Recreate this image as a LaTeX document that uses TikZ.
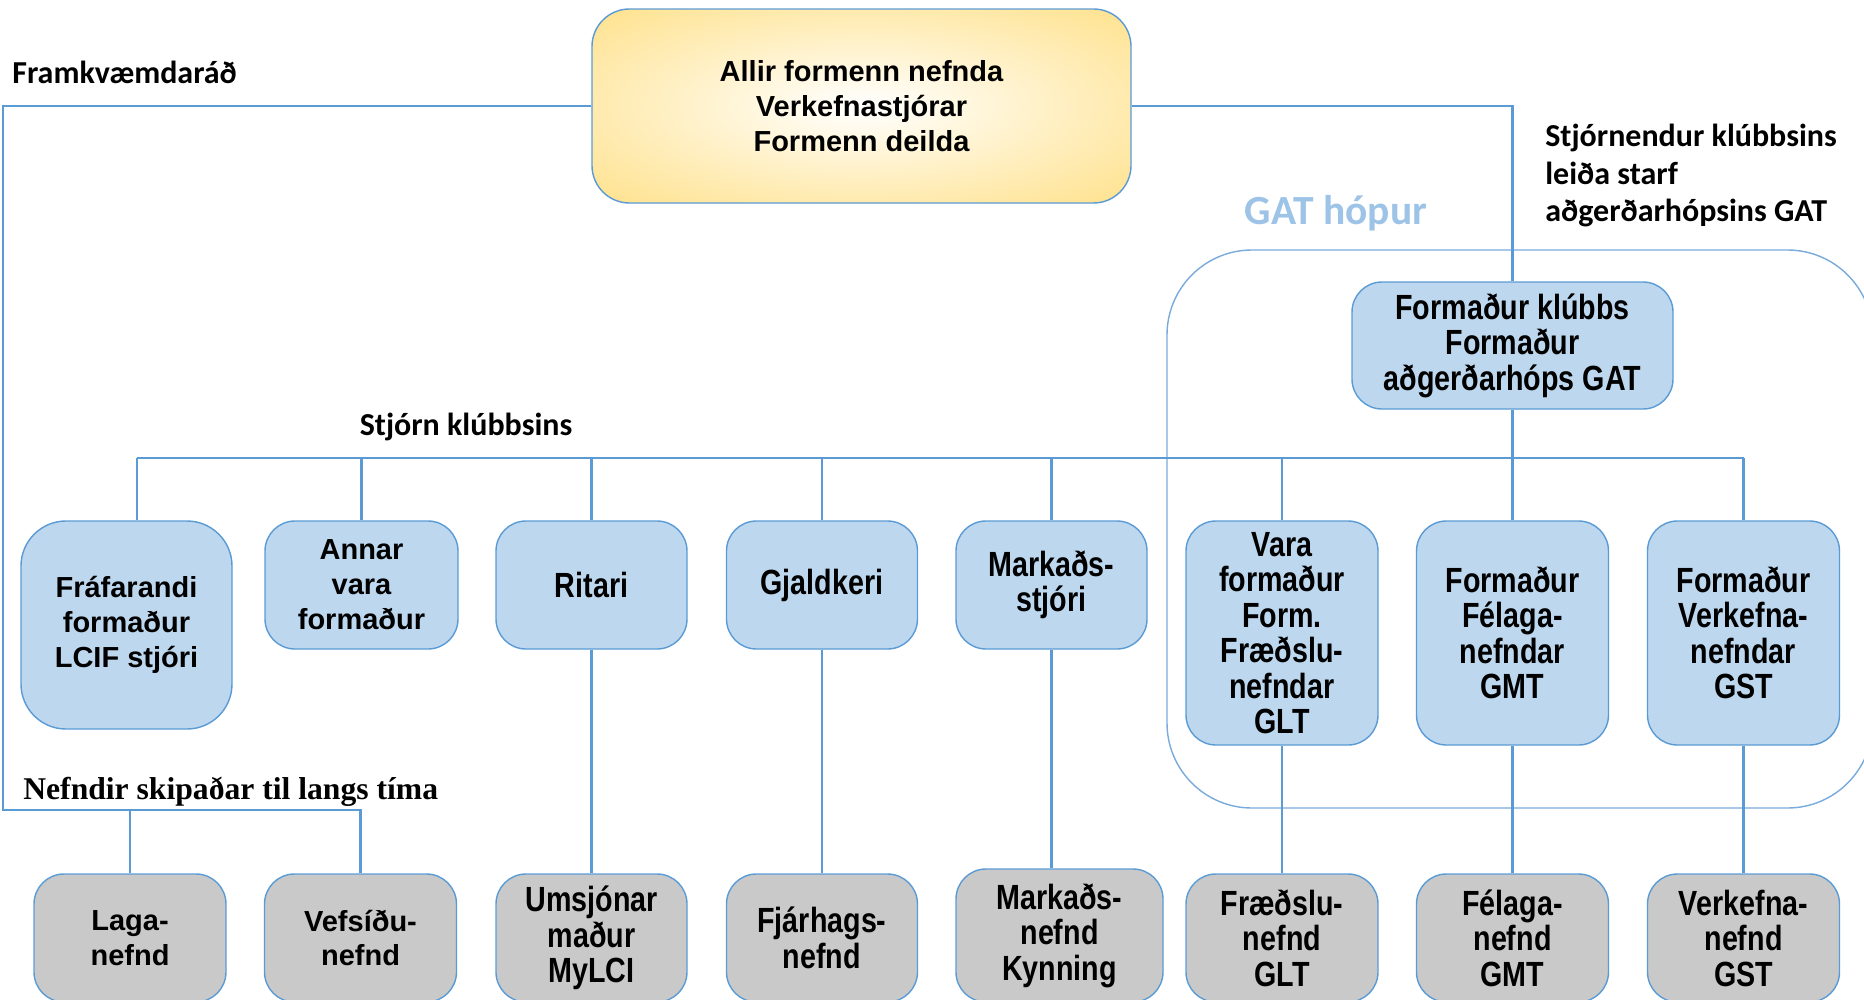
\documentclass[tikz,border=0pt]{standalone}
\usepackage{fontspec}
\setmainfont{Liberation Sans}
\newfontfamily\narrowfont{Liberation Sans}[FakeStretch=0.82]
\newfontfamily\labelfont{Carlito}
\newfontfamily\seriffont{Liberation Serif}
\usetikzlibrary{positioning,calc,backgrounds}
\definecolor{orglink}{RGB}{91,155,213}
\definecolor{orgframe}{RGB}{120,170,220}
\definecolor{orgblue}{RGB}{189,215,238}
\definecolor{orggrey}{RGB}{201,201,201}
\definecolor{orggold}{RGB}{255,214,95}
\definecolor{orggoldlight}{RGB}{255,240,196}
\definecolor{orggat}{RGB}{157,195,230}
\pgfdeclareradialshading{goldglow}{\pgfpoint{0cm}{0cm}}{color(0bp)=(white); color(18bp)=(orggoldlight); color(50bp)=(orggold)}

\begin{document}
\begin{tikzpicture}[
    board/.style={draw=orglink, line width=0.8pt, fill=orgblue, rounded corners=0.6cm, align=center, inner sep=0pt, font=\bfseries\fontsize{16.5}{19.9}\selectfont},
    nboard/.style={board, font=\narrowfont\bfseries\fontsize{19.9}{20.2}\selectfont},
    committee/.style={board, fill=orggrey},
    ncommittee/.style={nboard, fill=orggrey},
    link/.style={draw=orglink, line width=1.4pt},
    lbl/.style={font=\labelfont\bfseries\fontsize{18.2}{21.6}\selectfont, align=left, inner sep=0pt}
]
\useasboundingbox (0,0) rectangle (37.28,-20);
\clip (0,0) rectangle (37.28,-20);

% GAT group frame
\draw[draw=orgframe, line width=0.8pt, rounded corners=1.7cm] (23.34,-5.0) rectangle (37.45,-16.16);

% Top box
\node[board, shading=goldglow, rounded corners=0.75cm, minimum width=10.78cm, minimum height=3.88cm] (allir) at (17.23,-2.12) {Allir formenn nefnda\\Verkefnastjórar\\Formenn deilda};

% GAT chair
\node[nboard, minimum width=6.42cm, minimum height=2.54cm] (klubbs) at (30.25,-6.91) {Formaður klúbbs\\Formaður\\aðgerðarhóps GAT};

% Board of the club
\node[board, rounded corners=0.9cm, minimum width=4.22cm, minimum height=4.16cm] (fraf) at (2.53,-12.5) {Fráfarandi\\formaður\\LCIF stjóri};
\node[board, minimum width=3.86cm, minimum height=2.56cm] (annar) at (7.23,-11.7) {Annar\\vara\\formaður};
\node[nboard, minimum width=3.82cm, minimum height=2.56cm] (ritari) at (11.83,-11.7) {Ritari};
\node[nboard, minimum width=3.82cm, minimum height=2.56cm] (gjald) at (16.44,-11.7) {Gjaldkeri};
\node[nboard, minimum width=3.82cm, minimum height=2.56cm] (markstj) at (21.03,-11.7) {Markaðs-\\stjóri};
\node[nboard, minimum width=3.84cm, minimum height=4.48cm] (vara) at (25.64,-12.66) {Vara\\formaður\\Form.\\Fræðslu-\\nefndar\\GLT};
\node[nboard, minimum width=3.84cm, minimum height=4.48cm] (felaga) at (30.25,-12.66) {Formaður\\Félaga-\\nefndar\\GMT};
\node[nboard, minimum width=3.84cm, minimum height=4.48cm] (verkefna) at (34.87,-12.66) {Formaður\\Verkefna-\\nefndar\\GST};

% Committees
\node[committee, minimum width=3.84cm, minimum height=2.56cm] (laga) at (2.6,-18.76) {Laga-\\nefnd};
\node[committee, minimum width=3.84cm, minimum height=2.56cm] (vefsidu) at (7.21,-18.76) {Vefsíðu-\\nefnd};
\node[ncommittee, minimum width=3.82cm, minimum height=2.56cm] (umsjon) at (11.83,-18.76) {Umsjónar\\maður\\MyLCI};
\node[ncommittee, minimum width=3.82cm, minimum height=2.56cm] (fjarhags) at (16.44,-18.76) {Fjárhags-\\nefnd};
\node[ncommittee, minimum width=4.14cm, minimum height=2.66cm] (marknef) at (21.19,-18.71) {Markaðs-\\nefnd\\Kynning};
\node[ncommittee, minimum width=3.84cm, minimum height=2.56cm] (fraedslu) at (25.64,-18.76) {Fræðslu-\\nefnd\\GLT};
\node[ncommittee, minimum width=3.84cm, minimum height=2.56cm] (felnef) at (30.25,-18.76) {Félaga-\\nefnd\\GMT};
\node[ncommittee, minimum width=3.84cm, minimum height=2.56cm] (verknef) at (34.87,-18.76) {Verkefna-\\nefnd\\GST};

% Labels
\node[lbl, anchor=west] (framkv) at (0.24,-1.44) {Framkvæmdaráð};
\node[lbl] (stjorn) at (9.32,-8.53) {Stjórn klúbbsins};
\node[lbl, anchor=west] (stjornendur) at (30.9,-3.51) {Stjórnendur klúbbsins\\leiða starf\\aðgerðarhópsins GAT};
\node[lbl, text=orggat, font=\labelfont\bfseries\fontsize{23.6}{28}\selectfont] (gathopur) at (26.72,-4.27) {GAT hópur};
\node[anchor=west, inner sep=0pt, font=\seriffont\bfseries\fontsize{18}{21}\selectfont] (nefndir) at (0.46,-15.83) {Nefndir skipaðar til langs tíma};

% Connectors
\coordinate (bus) at (0,-9.16);
\coordinate (nefhorn) at (0.06,-16.2);
\draw[link] (allir.west) -| (nefhorn) -| (vefsidu.north);
\draw[link] (laga.north) -- (laga.north |- nefhorn);
\draw[link] (allir.east) -| (klubbs.north);
\draw[link] ([xshift=0.21cm]fraf.north |- bus) -- (verkefna.north |- bus);
\draw[link] ([xshift=0.21cm]fraf.north) -- ([xshift=0.21cm]fraf.north |- bus);
\foreach \n in {annar,ritari,gjald,markstj,vara,verkefna}
    \draw[link] (\n.north) -- (\n.north |- bus);
\draw[link] (klubbs.south) -- (felaga.north);
\foreach \a/\b in {ritari/umsjon,gjald/fjarhags,vara/fraedslu,felaga/felnef,verkefna/verknef}
    \draw[link] (\a.south) -- (\b.north);
\draw[link] (markstj.south) -- (markstj.south |- marknef.north);

\end{tikzpicture}
\end{document}
